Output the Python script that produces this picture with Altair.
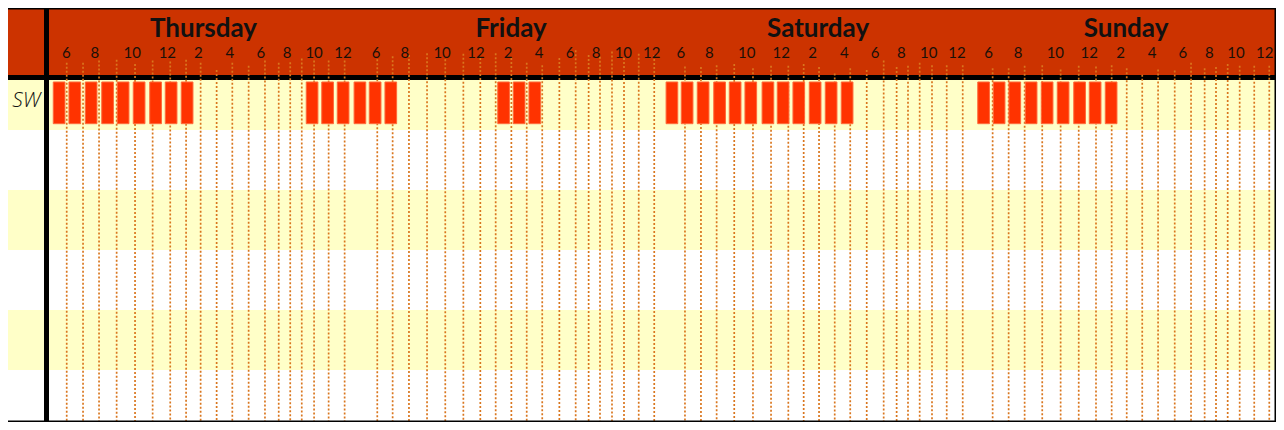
import altair as alt
import pandas as pd

# ---------------- data ----------------
# x unit = one hour slot of the schedule grid, y unit = one table row
days = ["Thursday", "Friday", "Saturday", "Sunday"]
day_label_x = [9.72, 28.94, 48.13, 67.38]

hour_text = ["6", "8", "10", "12", "2", "4", "6", "8", "10", "12"]
hour_label_x = [
    [1.14, 2.92, 5.27, 7.46, 9.39, 11.36, 13.31, 14.94, 16.63, 18.44],
    [20.50, 22.31, 24.63, 26.75, 28.75, 30.69, 32.63, 34.25, 35.96, 37.73],
    [39.56, 41.33, 43.67, 45.83, 47.79, 49.77, 51.69, 53.33, 55.04, 56.81],
    [58.79, 60.63, 62.96, 65.08, 67.04, 69.00, 70.92, 72.58, 74.25, 76.04],
]

# dotted hour grid lines: position and where each starts (top)
grid_x = [
    [1.17, 2.19, 3.19, 4.29, 5.44, 6.54, 7.64, 8.63, 9.54, 10.54, 11.52, 12.54, 13.56, 14.42, 15.14, 15.86, 16.63, 17.54, 18.54],
    [20.58, 21.54, 22.56, 23.69, 24.83, 25.96, 27.02, 27.98, 28.96, 29.92, 30.89, 31.96, 32.98, 33.79, 34.50, 35.25, 36.00, 36.92, 37.89],
    [39.81, 40.81, 41.79, 42.89, 44.06, 45.19, 46.27, 47.23, 48.19, 49.17, 50.14, 51.17, 52.23, 53.04, 53.75, 54.48, 55.25, 56.17, 57.17],
    [59.04, 60.04, 61.04, 62.14, 63.29, 64.42, 65.50, 66.48, 67.42, 68.39, 69.38, 70.42, 71.44, 72.29, 73.00, 73.73, 74.48, 75.39, 76.33],
]
grid_top = [
    [-0.12, -0.12, -0.16, -0.17, -0.10, -0.16, -0.14, -0.17, -0.12, 0.00, -0.12, -0.07, -0.16, -0.12, -0.13, -0.19, -0.16, -0.16, -0.16],
    [-0.18, -0.23, -0.25, -0.28, -0.18, -0.27, -0.20, -0.28, -0.20, -0.12, -0.08, -0.20, -0.33, -0.25, -0.22, -0.31, -0.20, -0.27, -0.25],
    [-0.06, -0.05, -0.08, -0.10, -0.03, -0.07, -0.07, -0.10, -0.05, 0.06, -0.03, 0.00, -0.16, -0.05, -0.07, -0.12, -0.08, -0.08, -0.08],
    [-0.03, -0.03, -0.07, -0.08, -0.01, -0.07, -0.06, -0.08, -0.03, 0.08, -0.01, 0.01, -0.12, -0.03, -0.05, -0.10, -0.07, -0.07, -0.07],
]

# booked slots for row "SW" (start of each slot block)
row_names = ["SW", "", "", "", "", ""]
sw_slots = [
    0.33, 1.31, 2.33, 3.36, 4.33, 5.33, 6.36, 7.33, 8.33,
    16.14, 17.11, 18.08, 19.13, 20.08, 21.06,
    28.11, 29.08, 30.06,
    38.63, 39.58, 40.58, 41.61, 42.58, 43.56, 44.63, 45.58, 46.56, 47.58, 48.58, 49.58,
    58.11, 59.08, 60.06, 61.08, 62.08, 63.08, 64.11, 65.08, 66.08,
]
slot_len = 0.73

# ---------------- layout constants ----------------
X0, X1 = -2.5, 76.75          # visible range (hours)
Y0, Y1 = -1.0333, 5.8667      # visible range (rows)
HEADER_BOTTOM = 0.0833
RULE_BOTTOM = 0.1667
LABEL_COL = -0.25

RED = "#CC3300"
BAR = "#FF3300"
YELLOW = "#FFFFC8"
DOT = "#D9761E"

xs = alt.Scale(domain=[X0, X1], nice=False, zero=False)
ys = alt.Scale(domain=[Y0, Y1], nice=False, zero=False, reverse=True)


def X(field, **kw):
    return alt.X(field, type="quantitative", scale=xs, axis=None, **kw)


def Y(field, **kw):
    return alt.Y(field, type="quantitative", scale=ys, axis=None, **kw)


# row bands
rows_df = pd.DataFrame({
    "r": list(range(6)),
    "r2": [i + 1 for i in range(6)],
    "x": [X0] * 6,
    "x2": [X1] * 6,
    "fill": [YELLOW if i % 2 == 0 else "#FFFFFF" for i in range(6)],
})
bands = alt.Chart(rows_df).mark_rect(clip=True).encode(
    x=X("x"), x2="x2", y=Y("r"), y2="r2",
    fill=alt.Fill("fill:N", scale=None),
)

# header band
hdr_df = pd.DataFrame({"x": [X0], "x2": [X1], "y": [Y0], "y2": [HEADER_BOTTOM]})
header = alt.Chart(hdr_df).mark_rect(color=RED, clip=True).encode(
    x=X("x"), x2="x2", y=Y("y"), y2="y2")

# black separator under header
sep_df = pd.DataFrame({"x": [X0], "x2": [X1], "y": [HEADER_BOTTOM], "y2": [RULE_BOTTOM]})
sep = alt.Chart(sep_df).mark_rect(color="#000000", clip=True).encode(
    x=X("x"), x2="x2", y=Y("y"), y2="y2")

# black bar separating the row-name column
vsep_df = pd.DataFrame({"x": [LABEL_COL], "x2": [0.0625], "y": [Y0], "y2": [Y1]})
vsep = alt.Chart(vsep_df).mark_rect(color="#000000", clip=True).encode(
    x=X("x"), x2="x2", y=Y("y"), y2="y2")

# dotted grid
gx, gt = [], []
for d in range(4):
    gx += grid_x[d]
    gt += grid_top[d]
grid_df = pd.DataFrame({"x": gx, "top": gt, "bottom": [Y1] * len(gx)})
grid = alt.Chart(grid_df).mark_rule(
    color=DOT, strokeWidth=1.7, strokeDash=[2, 2], clip=True
).encode(x=X("x"), y=Y("top"), y2="bottom")

# booked slots
bars_df = pd.DataFrame({
    "start": sw_slots,
    "end": [s + slot_len for s in sw_slots],
    "top": [0.2] * len(sw_slots),
    "bottom": [0.895] * len(sw_slots),
})
bars = alt.Chart(bars_df).mark_rect(
    color=BAR, stroke="#FF6A3A", strokeWidth=1, clip=True
).encode(x=X("start"), x2="end", y=Y("top"), y2="bottom")

# day titles
day_df = pd.DataFrame({"day": days, "x": day_label_x, "y": [-0.555] * 4})
day_text = alt.Chart(day_df).mark_text(
    font="Lato", fontSize=26, fontWeight="bold", color="#111111",
    baseline="alphabetic", align="center"
).encode(x=X("x"), y=Y("y"), text="day:N")

# hour labels
hx, ht = [], []
for d in range(4):
    hx += hour_label_x[d]
    ht += hour_text
hour_df = pd.DataFrame({"x": hx, "t": ht, "y": [-0.2] * len(hx)})
hour_labels = alt.Chart(hour_df).mark_text(
    font="Lato", fontSize=15, color="#1a1008", baseline="alphabetic", align="center"
).encode(x=X("x"), y=Y("y"), text="t:N")

# row names
name_df = pd.DataFrame({"name": [row_names[0]], "x": [-1.35], "y": [0.62]})
names = alt.Chart(name_df).mark_text(
    font="Open Sans", fontSize=21, fontStyle="italic", fontWeight=300, color="#111111",
    baseline="alphabetic", align="center"
).encode(x=X("x"), y=Y("y"), text="name:N")

# outer frame (top / right / bottom edges)
edge_df = pd.DataFrame({
    "x": [X0, X1, X0],
    "x2": [X1, X1, X1],
    "y": [Y0, Y0, Y1],
    "y2": [Y0, Y1, Y1],
})
frame = alt.Chart(edge_df).mark_rule(color="#000000", strokeWidth=3, clip=True).encode(
    x=X("x"), x2="x2", y=Y("y"), y2="y2")

chart = alt.layer(
    bands, header, sep, grid, bars, vsep, day_text, hour_labels, names, frame
).properties(
    width=1268, height=414,
    autosize=alt.AutoSizeParams(type="none"),
    padding=0,
).configure_view(stroke=None)

chart.save("out.html", embed_options={"renderer": "svg", "actions": False})
